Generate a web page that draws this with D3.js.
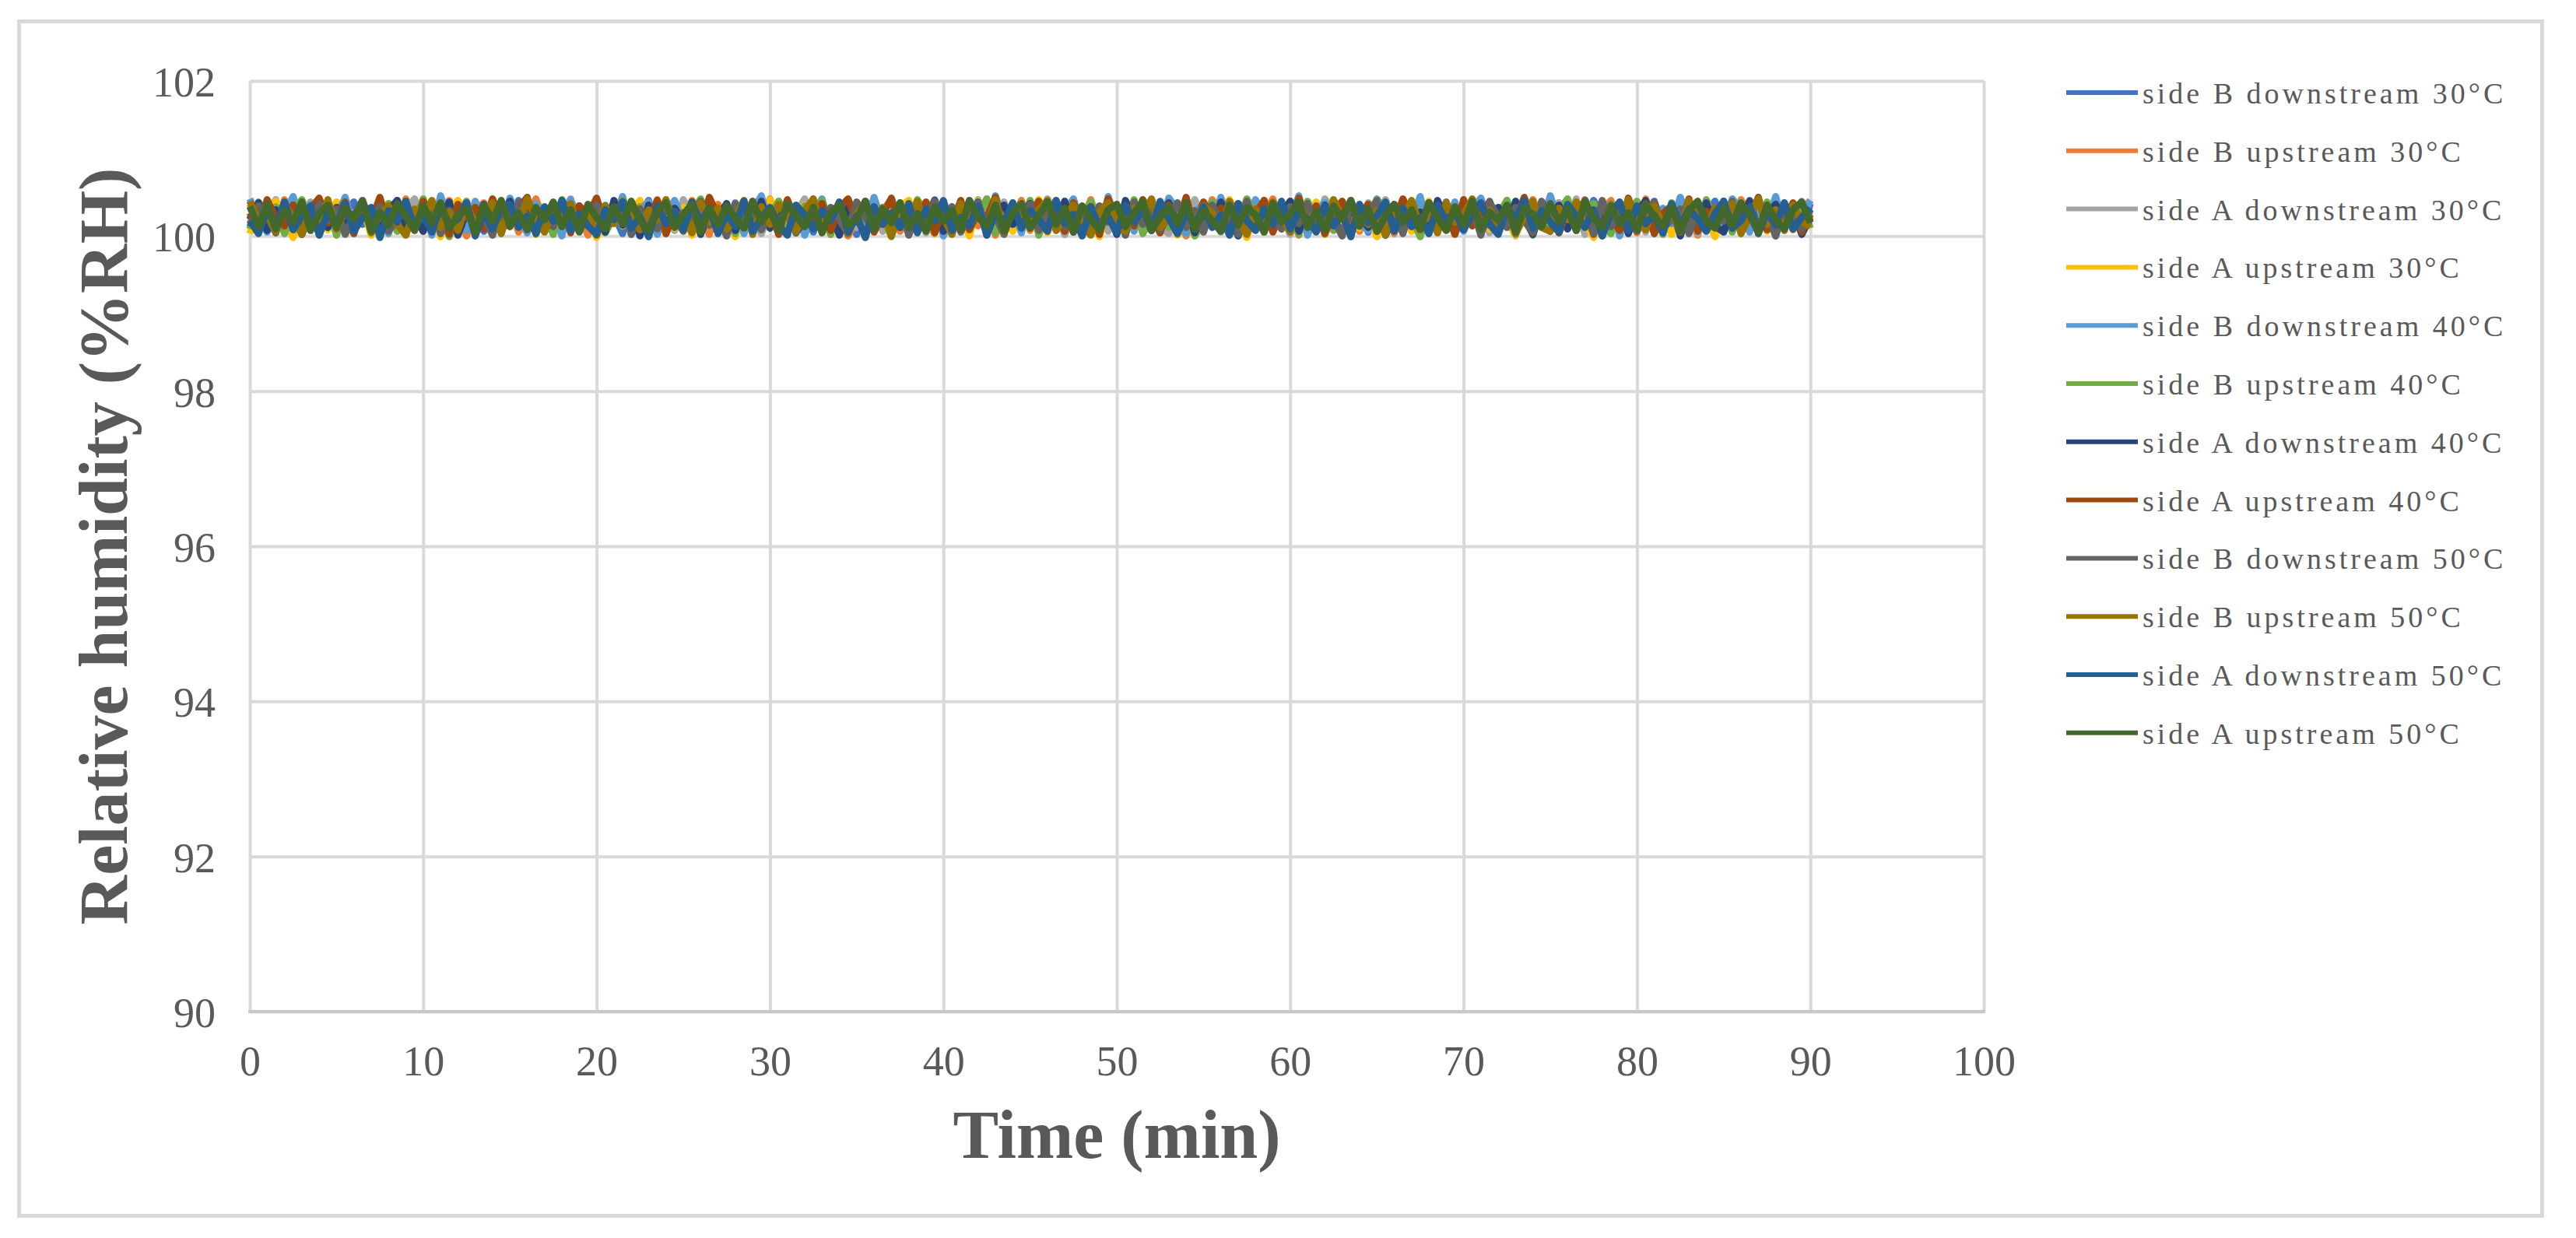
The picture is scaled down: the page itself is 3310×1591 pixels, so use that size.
<!DOCTYPE html>
<html>
<head>
<meta charset="utf-8">
<script src="https://cdn.jsdelivr.net/npm/d3@7"></script>
<style>
  body { margin: 0; background: #fff; }
</style>
</head>
<body>
<script>
// legend names and Excel colours, in drawing order
const seriesNames = [
  "side B downstream 30°C", "side B upstream 30°C", "side A downstream 30°C", "side A upstream 30°C",
  "side B downstream 40°C", "side B upstream 40°C", "side A downstream 40°C", "side A upstream 40°C",
  "side B downstream 50°C", "side B upstream 50°C", "side A downstream 50°C", "side A upstream 50°C"
];
const seriesColors = [
  "#4472C4", "#ED7D31", "#A5A5A5", "#FFC000",
  "#5B9BD5", "#70AD47", "#264478", "#9E480E",
  "#636363", "#997300", "#255E91", "#43682B"
];
const xTicks = [0, 10, 20, 30, 40, 50, 60, 70, 80, 90, 100];
const yTicks = [90, 92, 94, 96, 98, 100, 102];
const sampleStep = 0.5; // minutes between readings

// relative humidity readings (%RH), one every 0.5 min from 0 to 90 min
const sideBDown30 = [
100.27,100.05,100.43,100.18,100.36,100.09,100.46,100.22,100.13,100.39,
100.03,100.31,100.44,100.15,100.25,100.40,100.07,100.34,100.20,100.46,
100.11,100.38,100.02,100.29,100.45,100.17,100.33,100.06,100.41,100.24,
100.14,100.46,100.08,100.35,100.21,100.42,100.04,100.30,100.39,100.12,
100.44,100.19,100.28,100.03,100.37,100.25,100.46,100.10,100.32,100.16,
100.40,100.06,100.23,100.45,100.13,100.34,100.02,100.43,100.27,100.09,
100.36,100.20,100.46,100.11,100.30,100.05,100.41,100.17,100.38,100.24,
100.02,100.45,100.15,100.33,100.08,100.39,100.28,100.44,100.12,100.21,
100.46,100.07,100.37,100.19,100.42,100.03,100.26,100.35,100.14,100.40,
100.23,100.10,100.44,100.31,100.05,100.38,100.18,100.46,100.09,100.29,
100.35,100.02,100.41,100.22,100.14,100.45,100.06,100.33,100.27,100.11,
100.43,100.17,100.30,100.04,100.39,100.24,100.46,100.08,100.36,100.13,
100.20,100.44,100.10,100.34,100.02,100.28,100.42,100.16,100.37,100.05,
100.31,100.46,100.12,100.25,100.40,100.07,100.35,100.19,100.44,100.03,
100.26,100.38,100.09,100.45,100.15,100.30,100.02,100.41,100.22,100.34,
100.06,100.43,100.18,100.37,100.11,100.46,100.27,100.04,100.32,100.40,
100.14,100.24,100.45,100.08,100.36,100.19,100.42,100.03,100.29,100.45,
100.10,100.33,100.21,100.46,100.05,100.38,100.16,100.40,100.25,100.07,
100.42];
const sideBUp30 = [
100.16,100.42,100.31,100.04,100.47,100.22,100.10,100.38,100.27,100.45,
100.02,100.35,100.19,100.44,100.08,100.29,100.41,100.13,100.48,100.24,
100.06,100.37,100.15,100.46,100.26,100,100.33,100.43,100.11,100.30,
100.40,100.05,100.22,100.48,100.17,100.36,100.09,100.45,100.28,100.01,
100.34,100.12,100.43,100.24,100.07,100.39,100.20,100.47,100.03,100.31,
100.14,100.46,100.27,100.02,100.41,100.18,100.35,100.10,100.44,100.23,
100.48,100.08,100.30,100.38,100.04,100.25,100.42,100.15,100.36,100,
100.21,100.45,100.11,100.33,100.47,100.06,100.28,100.40,100.17,100.03,
100.43,100.24,100.09,100.37,100.13,100.48,100.01,100.32,100.20,100.46,
100.07,100.39,100.26,100.44,100.02,100.30,100.16,100.47,100.11,100.35,
100.25,100.04,100.41,100.18,100.45,100.08,100.34,100.22,100,100.38,
100.12,100.47,100.29,100.05,100.36,100.43,100.14,100.27,100.48,100.09,
100.31,100.01,100.40,100.20,100.46,100.10,100.33,100.24,100.06,100.42,
100.17,100.44,100.03,100.35,100.28,100.48,100.11,100.39,100.19,100.05,
100.45,100.23,100.08,100.37,100.14,100.41,100.02,100.30,100.47,100.16,
100.26,100.06,100.43,100.21,100.38,100,100.34,100.46,100.12,100.29,
100.04,100.48,100.18,100.32,100.09,100.40,100.25,100.01,100.44,100.15,
100.36,100.11,100.47,100.27,100.05,100.42,100.20,100.38,100.08,100.33,
100.46];
const sideADown30 = [
100.41,100.13,100.29,100.47,100.05,100.36,100.20,100.44,100.09,100.32,
100.18,100.46,100.03,100.38,100.25,100.12,100.42,100.07,100.34,100.48,
100.22,100.10,100.45,100.02,100.31,100.40,100.15,100.27,100.47,100.06,
100.35,100.19,100.43,100.11,100.37,100.04,100.28,100.48,100.14,100.24,
100.09,100.39,100.30,100.46,100.02,100.21,100.44,100.16,100.33,100.07,
100.47,100.26,100.12,100.40,100.05,100.35,100.18,100.45,100.23,100.03,
100.31,100.43,100.08,100.28,100.48,100.15,100.37,100.02,100.41,100.20,
100.11,100.36,100.46,100.06,100.25,100.42,100.13,100.33,100.04,100.45,
100.27,100.03,100.38,100.19,100.47,100.10,100.30,100.44,100.08,100.22,
100.40,100.14,100.48,100.25,100.02,100.36,100.17,100.43,100.29,100.06,
100.34,100.09,100.42,100.21,100.45,100.12,100.03,100.39,100.26,100.47,
100.16,100.30,100.05,100.44,100.20,100.37,100.08,100.46,100.13,100.28,
100.02,100.41,100.24,100.11,100.48,100.32,100.06,100.35,100.18,100.43,
100.25,100.47,100.09,100.38,100.14,100.03,100.42,100.22,100.33,100.10,
100.45,100.19,100.36,100.04,100.29,100.46,100.12,100.40,100.07,100.31,
100.21,100.43,100.15,100.48,100.02,100.34,100.26,100.09,100.44,100.17,
100.37,100.05,100.41,100.24,100.13,100.47,100.30,100.03,100.39,100.20,
100.08,100.46,100.18,100.35,100.27,100.42,100.04,100.32,100.14,100.45,
100.23];
const sideAUp30 = [
100.03,100.36,100.14,100.45,100.22,99.98,100.40,100.18,100.31,100.08,
100.44,100.11,100.28,100.39,100.01,100.47,100.20,100.33,100.06,100.25,
100.15,100.42,99.99,100.30,100.46,100.09,100.24,100.37,100.04,100.41,
100.27,100.12,100.47,100.02,100.35,100.19,100.44,100.07,100.29,100.38,
99.98,100.23,100.40,100.13,100.32,100.46,100.05,100.26,100.43,100.10,
100.37,100.01,100.28,100.45,100.16,100.34,99.99,100.42,100.21,100.09,
100.47,100.19,100.06,100.31,100.40,100.11,100.25,100.02,100.44,100.15,
100.30,99.98,100.43,100.22,100.08,100.38,100.46,100.14,100.33,100.03,
100.41,100.17,100.27,100,100.45,100.12,100.35,100.24,100.06,100.39,
100.20,100.47,100.04,100.32,100.16,100.43,100.09,100.28,99.99,100.36,
100.13,100.40,100.25,100.07,100.46,100.18,100.31,100.01,100.44,100.22,
100.05,100.37,100.14,100.47,100.26,99.98,100.35,100.11,100.42,100.29,
100.39,100.08,100.21,100.44,100.02,100.33,100.16,100.46,100.10,100.27,
99.99,100.43,100.19,100.36,100.06,100.30,100.45,100.13,100.24,100.03,
100.41,100.15,100.47,100.09,100.34,100.21,100,100.38,100.26,100.12,
100.45,100.04,100.29,100.40,100.17,99.98,100.44,100.23,100.07,100.35,
100.18,100.46,100.10,100.31,100.02,100.42,100.14,100.37,100.25,99.99,
100.33,100.08,100.43,100.20,100.47,100.06,100.28,100.39,100.11,100.44,
100.21];
const sideBDown40 = [
100.48,100.20,100.05,100.37,100.29,100.51,100.12,100.41,100.02,100.33,
100.24,100.50,100.09,100.44,100.17,100.36,100.03,100.46,100.27,100.14,
100.39,100.01,100.52,100.22,100.31,100.07,100.45,100.16,100.38,100.10,
100.49,100.26,100.04,100.42,100.19,100.35,100,100.47,100.13,100.30,
100.08,100.40,100.23,100.51,100.11,100.34,100.44,100.02,100.28,100.46,
100.18,100.37,100.06,100.49,100.25,100.15,100.43,100.03,100.32,100.52,
100.12,100.45,100.21,100.38,100.01,100.30,100.48,100.09,100.41,100.20,
100.35,100.05,100.50,100.16,100.27,100.43,100.07,100.39,100.24,100.47,
100,100.33,100.14,100.46,100.29,100.10,100.52,100.19,100.36,100.04,
100.44,100.22,100.08,100.40,100.31,100.48,100.13,100.26,100.02,100.51,
100.17,100.38,100.06,100.45,100.24,100.11,100.49,100.34,100.03,100.29,
100.42,100.15,100.50,100.20,100.36,100.05,100.47,100.27,100.09,100.39,
100.23,100.52,100.01,100.32,100.43,100.12,100.28,100.46,100.16,100.07,
100.48,100.30,100.10,100.41,100.21,100.51,100.04,100.37,100.18,100.44,
100.06,100.35,100.49,100.14,100.26,100.40,100.02,100.45,100.31,100.11,
100.52,100.19,100.38,100.08,100.47,100.25,100.13,100.42,100,100.33,
100.27,100.45,100.03,100.36,100.16,100.50,100.22,100.09,100.41,100.29,
100.14,100.48,100.34,100.05,100.43,100.18,100.51,100.10,100.39,100.24,
100.46];
const sideBUp40 = [
100.09,100.44,100.26,100.38,100.03,100.31,100.47,100.15,100.22,100.40,
100.01,100.35,100.18,100.46,100.11,100.29,100.42,100.06,100.37,100.20,
100.48,100.13,100.33,99.99,100.27,100.45,100.10,100.39,100.24,100.05,
100.36,100.17,100.43,100.08,100.30,100.02,100.47,100.21,100.34,100.12,
100.41,100.04,100.25,100.46,100.16,100.38,100,100.32,100.44,100.19,
100.07,100.29,100.48,100.14,100.35,100.23,100.03,100.42,100.11,100.37,
100.26,100.45,100.06,100.20,100.39,100.12,100.46,100.02,100.31,100.17,
100.43,100.09,100.36,100.24,99.99,100.40,100.15,100.47,100.28,100.05,
100.33,100.19,100.44,100.10,100.27,100.48,100.04,100.37,100.22,100.13,
100.46,100.01,100.30,100.41,100.08,100.34,100.18,100.45,100.06,100.25,
100.38,100.14,100.47,100.03,100.23,100.36,100.11,100.42,100.29,100,
100.20,100.44,100.09,100.32,100.16,100.48,100.26,100.05,100.40,100.13,
100.35,100.02,100.45,100.21,100.37,100.07,100.30,100.43,100.12,100.28,
100.47,100.06,100.18,100.39,100.24,99.99,100.41,100.15,100.34,100.09,
100.27,100.44,100.04,100.36,100.19,100.46,100.10,100.31,100.01,100.40,
100.14,100.33,100.48,100.07,100.25,100.42,100.17,100.03,100.38,100.22,
100.45,100.11,100.29,100.02,100.43,100.20,100.36,100.08,100.47,100.16,
100.31,100.05,100.40,100.26,100.13,100.44,100,100.35,100.18,100.42,
100.10];
const sideADown40 = [
100.21,100.43,100.07,100.34,100.15,100.40,100.02,100.28,100.45,100.11,
100.37,100.19,100.04,100.42,100.25,100.09,100.33,100.46,100.13,100.30,
100.06,100.39,100.22,100.44,100.01,100.31,100.17,100.41,100.08,100.26,
100.45,100.12,100.35,100.03,100.29,100.20,100.43,100.10,100.38,100.16,
100.27,100.05,100.46,100.14,100.33,100,100.40,100.23,100.09,100.36,
100.18,100.44,100.02,100.31,100.24,100.42,100.07,100.35,100.13,100.45,
100.10,100.28,100.39,100.04,100.21,100.46,100.16,100.32,100.01,100.37,
100.25,100.43,100.08,100.34,100.14,100.41,100.03,100.29,100.19,100.46,
100.06,100.36,100.22,100.11,100.44,100.01,100.30,100.40,100.15,100.27,
100.42,100.09,100.33,100.18,100.45,100.05,100.24,100.38,100.12,100.31,
100.02,100.46,100.20,100.35,100.07,100.28,100.43,100.16,100.39,100.04,
100.32,100.13,100.44,100.25,100,100.37,100.19,100.41,100.10,100.29,
100.45,100.06,100.34,100.15,100.40,100.22,100.03,100.36,100.27,100.11,
100.38,100.01,100.26,100.43,100.17,100.31,100.08,100.46,100.20,100.33,
100.12,100.42,100.04,100.29,100.37,100.14,100.45,100.23,100.02,100.35,
100.19,100.40,100.09,100.32,100.44,100.06,100.27,100.16,100.41,100.03,
100.30,100.46,100.11,100.24,100.38,100,100.34,100.21,100.43,100.13,
100.05,100.36,100.18,100.45,100.08,100.28,100.41,100.15,100.33,100.02,
100.24];
const sideAUp40 = [
100.30,100.08,100.47,100.22,100.13,100.40,100.05,100.35,100.49,100.17,
100.26,100.44,100.03,100.38,100.19,100.50,100.10,100.31,100.42,100.07,
100.45,100.15,100.28,100.02,100.41,100.24,100.37,100.09,100.48,100.20,
100.12,100.36,100.50,100.06,100.33,100.21,100.44,100.04,100.39,100.27,
100.49,100.14,100.29,100.43,100.08,100.35,100.18,100.46,100.03,100.32,
100.23,100.41,100.11,100.50,100.25,100.06,100.38,100.16,100.45,100.09,
100.34,100.02,100.47,100.20,100.30,100.13,100.42,100.07,100.36,100.48,
100.18,100.40,100.05,100.27,100.49,100.11,100.33,100.22,100.44,100.04,
100.37,100.15,100.46,100.08,100.31,100.24,100.50,100.03,100.41,100.19,
100.28,100.45,100.10,100.35,100.06,100.43,100.17,100.38,100.02,100.48,
100.21,100.32,100.13,100.47,100.26,100.04,100.40,100.14,100.50,100.09,
100.44,100.23,100.36,100.07,100.42,100.18,100.29,100.46,100.05,100.34,
100.12,100.49,100.20,100.39,100.03,100.31,100.45,100.10,100.26,100.41,
100.06,100.37,100.16,100.48,100.24,100.08,100.43,100.19,100.35,100.02,
100.47,100.13,100.30,100.44,100.09,100.38,100.21,100.50,100.15,100.27,
100.40,100.04,100.33,100.18,100.46,100.11,100.36,100.25,100.07,100.49,
100.22,100.42,100.03,100.29,100.39,100.14,100.48,100.06,100.32,100.17,
100.45,100.10,100.37,100.23,100.50,100.08,100.34,100.20,100.43,100.05,
100.28];
const sideBDown50 = [
100.12,100.39,100.25,100.04,100.44,100.17,100.31,100.08,100.42,100.20,
100.35,100.02,100.27,100.46,100.14,100.38,100.06,100.22,100.41,100.10,
100.29,100.45,100.03,100.33,100.19,100.40,100.09,100.26,100.01,100.37,
100.16,100.43,100.23,100.07,100.36,100.12,100.46,100.28,100.05,100.31,
100.40,100.11,100.21,100.44,100.02,100.34,100.18,100.09,100.39,100.26,
100.06,100.30,100.45,100.14,100.24,100,100.42,100.19,100.36,100.08,
100.33,100.15,100.41,100.04,100.28,100.46,100.11,100.37,100.21,100.03,
100.44,100.23,100.09,100.35,100.17,100.40,100.01,100.29,100.13,100.45,
100.20,100.38,100.05,100.31,100.43,100.10,100.25,100.02,100.36,100.16,
100.41,100.07,100.27,100.46,100.12,100.34,100.22,100.04,100.39,100.18,
100.30,100.01,100.44,100.15,100.37,100.08,100.26,100.43,100.11,100.33,
100.05,100.40,100.19,100.28,100.02,100.45,100.14,100.35,100.24,100.09,
100.38,100.16,100.42,100.06,100.31,100.21,100,100.44,100.13,100.27,
100.46,100.10,100.34,100.03,100.39,100.18,100.29,100.07,100.41,100.23,
100.14,100.36,100.01,100.43,100.25,100.11,100.37,100.20,100.04,100.45,
100.28,100.08,100.40,100.17,100.33,100.02,100.46,100.12,100.30,100.38,
100.06,100.26,100.44,100.10,100.21,100.35,100.03,100.41,100.15,100.32,
100.19,100.45,100.07,100.37,100.13,100.29,100,100.42,100.24,100.09,
100.34];
const sideBUp50 = [
100.45,100.18,100.30,100.06,100.41,100.24,100.02,100.36,100.13,100.47,
100.09,100.33,100.20,100.44,100.04,100.28,100.39,100.15,100.01,100.35,
100.22,100.46,100.11,100.31,100.07,100.40,100.17,100.26,100.43,100.03,
100.37,100.14,100.48,100.23,100.05,100.32,100.19,100.42,100.10,100.29,
100.01,100.39,100.16,100.45,100.27,100.08,100.34,100.21,100.47,100.12,
100.30,100.04,100.43,100.18,100.36,100.09,100.25,100.46,100.02,100.38,
100.15,100.41,100.26,100.06,100.33,100.48,100.11,100.22,100.40,100.03,
100.28,100.44,100.13,100.37,100,100.31,100.19,100.45,100.08,100.35,
100.24,100.02,100.42,100.17,100.29,100.10,100.47,100.05,100.38,100.21,
100.12,100.34,100.46,100.07,100.25,100.40,100.14,100.01,100.32,100.43,
100.18,100.06,100.36,100.27,100.48,100.11,100.23,100.03,100.41,100.16,
100.39,100.30,100.08,100.45,100.20,100.02,100.35,100.13,100.44,100.26,
100.05,100.42,100.19,100.31,100.10,100.47,100.24,100.07,100.37,100.15,
100.33,100.01,100.40,100.22,100.46,100.12,100.28,100.04,100.43,100.18,
100.27,100.48,100.09,100.34,100.16,100.38,100.03,100.25,100.45,100.11,
100.06,100.36,100.21,100.44,100.13,100.30,100,100.41,100.17,100.47,
100.23,100.08,100.39,100.14,100.32,100.05,100.46,100.20,100.10,100.37,
100.29,100.42,100.03,100.26,100.48,100.15,100.34,100.07,100.40,100.19,
100.12];
const sideADown50 = [
100.20,100.03,100.35,100.12,100.44,100.08,100.27,100.39,100.01,100.30,
100.15,100.42,100.06,100.24,100.37,99.98,100.33,100.18,100.45,100.10,
100.28,100.05,100.40,100.14,100.22,100.43,100,100.31,100.09,100.36,
100.41,100.11,100.26,100.04,100.38,100.19,100.46,100.07,100.29,100.13,
100.02,100.34,100.21,100.44,100.10,100.25,99.99,100.39,100.16,100.32,
100.08,100.43,100.18,100.36,100.03,100.29,100.12,100.45,100.06,100.23,
100.37,100.14,100.01,100.40,100.27,100.09,100.33,100.20,100.44,100.05,
100.26,99.98,100.38,100.15,100.30,100.11,100.42,100.04,100.35,100.19,
100.45,100.07,100.24,100.13,100.39,100.02,100.31,100.17,100.43,100.10,
100.33,100.21,100.06,100.46,100.16,100.28,100,100.37,100.12,100.25,
100.04,100.40,100.18,100.34,100.09,100.44,100.23,100.03,100.30,100.14,
100.38,100.11,100.27,100.01,100.42,100.20,100.07,100.35,100.15,100.45,
100.09,100.32,100.22,100.05,100.39,100.13,100.29,99.99,100.41,100.17,
100.26,100.44,100.06,100.36,100.12,100.24,100.03,100.40,100.19,100.31,
100.08,100.28,100.43,100.15,100.02,100.37,100.21,100.46,100.10,100.33,
100.18,100.05,100.41,100.25,100.11,100.34,100,100.30,100.44,100.07,
100.39,100.16,100.27,100.04,100.42,100.13,100.35,100.22,100.06,100.29,
100.45,100.10,100.20,100.38,100.03,100.31,100.14,100.43,100.09,100.24,
100.36];
const sideAUp50 = [
100.38,100.12,100.41,100.09,100.33,100.18,100.44,100.07,100.29,100.40,
100.11,100.36,100.22,100.45,100.06,100.31,100.14,100.42,100.25,100.08,
100.39,100.17,100.43,100.10,100.27,100.35,100.05,100.40,100.19,100.46,
100.13,100.30,100.08,100.37,100.21,100.44,100.12,100.34,100.06,100.41,
100.24,100.09,100.38,100.16,100.45,100.20,100.07,100.32,100.43,100.11,
100.28,100.41,100.05,100.36,100.15,100.39,100.23,100.10,100.44,100.18,
100.34,100.07,100.42,100.26,100.12,100.37,100.04,100.31,100.40,100.14,
100.22,100.45,100.09,100.35,100.17,100.43,100.11,100.29,100.06,100.38,
100.19,100.33,100.08,100.46,100.24,100.13,100.40,100.06,100.30,100.42,
100.10,100.27,100.44,100.15,100.36,100.05,100.39,100.21,100.08,100.34,
100.41,100.12,100.30,100.45,100.07,100.25,100.38,100.16,100.43,100.09,
100.33,100.20,100.06,100.40,100.14,100.37,100.27,100.05,100.42,100.18,
100.29,100.44,100.11,100.32,100.08,100.39,100.22,100.46,100.13,100.35,
100.06,100.26,100.41,100.17,100.34,100.10,100.43,100.24,100.07,100.38,
100.15,100.45,100.09,100.31,100.20,100.40,100.05,100.36,100.28,100.12,
100.42,100.18,100.35,100.07,100.44,100.23,100.11,100.39,100.16,100.30,
100.08,100.41,100.25,100.13,100.37,100.06,100.33,100.45,100.19,100.10,
100.36,100.14,100.43,100.27,100.05,100.40,100.21,100.09,100.34,100.44,
100.17];

const series = [
  sideBDown30, sideBUp30, sideADown30, sideAUp30,
  sideBDown40, sideBUp40, sideADown40, sideAUp40,
  sideBDown50, sideBUp50, sideADown50, sideAUp50
];

const W = 3310, H = 1591;
const plot = { left: 321, right: 2549, top: 104, bottom: 1300 };
const textColor = "#595959";
const serif = "'Liberation Serif', 'Times New Roman', serif";

const svg = d3.select("body").append("svg")
    .attr("width", W)
    .attr("height", H);

// chart frame
svg.append("rect")
    .attr("x", 24.5).attr("y", 27.5)
    .attr("width", 3242).attr("height", 1535)
    .attr("fill", "#fff")
    .attr("stroke", "#d9d9d9")
    .attr("stroke-width", 5);

let x = d3.scaleLinear()
    .domain([0, 100])
    .range([plot.left, plot.right]);
let y = d3.scaleLinear()
    .domain([90, 102])
    .range([plot.bottom, plot.top]);

// vertical gridlines + x tick labels
let xAxis = svg.append("g")
    .attr("transform", "translate(0," + plot.bottom + ")")
    .call(d3.axisBottom(x)
        .tickValues(xTicks)
        .tickSize(-(plot.bottom - plot.top))
        .tickPadding(44));

// horizontal gridlines + y tick labels
let yAxis = svg.append("g")
    .attr("transform", "translate(" + plot.left + ",0)")
    .call(d3.axisLeft(y)
        .tickValues(yTicks)
        .tickSize(-(plot.right - plot.left))
        .tickPadding(44));

[xAxis, yAxis].forEach(function (ax) {
    ax.select(".domain").remove();
    ax.selectAll(".tick line")
        .attr("stroke", "#d9d9d9")
        .attr("stroke-width", 4);
    ax.selectAll(".tick text")
        .attr("fill", textColor)
        .style("font-family", serif)
        .style("font-size", "54px");
});
yAxis.selectAll(".tick text").attr("dy", "0.36em");

// bottom axis line
svg.append("line")
    .attr("x1", x(0) - 2).attr("x2", x(100) + 2)
    .attr("y1", y(90)).attr("y2", y(90))
    .attr("stroke", "#c8c8c8")
    .attr("stroke-width", 4);

// data lines
let line = d3.line()
    .x((d, i) => x(i * sampleStep))
    .y(d => y(d));

svg.append("g")
    .selectAll("path")
    .data(series)
    .join("path")
    .attr("d", line)
    .attr("fill", "none")
    .attr("stroke", (d, i) => seriesColors[i])
    .attr("stroke-width", 9)
    .attr("stroke-linejoin", "round");

// axis titles
svg.append("text")
    .attr("x", (plot.left + plot.right) / 2)
    .attr("y", 1488)
    .attr("text-anchor", "middle")
    .attr("fill", textColor)
    .style("font-family", serif)
    .style("font-size", "88px")
    .style("font-weight", "bold")
    .text("Time (min)");

svg.append("text")
    .attr("transform", "translate(163," + (plot.top + plot.bottom) / 2 + ") rotate(-90)")
    .attr("text-anchor", "middle")
    .attr("fill", textColor)
    .style("font-family", serif)
    .style("font-size", "88px")
    .style("font-weight", "bold")
    .text("Relative humidity (%RH)");

// legend
let legend = svg.append("g")
    .selectAll("g")
    .data(seriesNames)
    .join("g")
    .attr("transform", (d, i) => "translate(2655," + (119 + i * 74.8) + ")");

legend.append("line")
    .attr("x1", 0).attr("x2", 92)
    .attr("stroke", (d, i) => seriesColors[i])
    .attr("stroke-width", 6);

legend.append("text")
    .attr("x", 98)
    .attr("y", 14)
    .attr("fill", textColor)
    .style("font-family", serif)
    .style("font-size", "38px")
    .style("letter-spacing", "4px")
    .text(d => d);
</script>
</body>
</html>
